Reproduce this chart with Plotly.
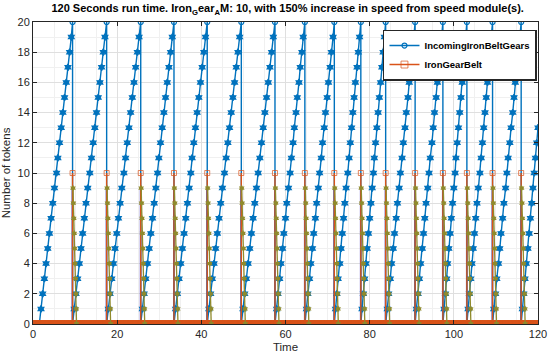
import plotly.graph_objects as go

# ---------------- data ----------------
series_names = ["IncomingIronBeltGears", "IronGearBelt"]
x_ticks = [0, 20, 40, 60, 80, 100, 120]
y_ticks = [0, 2, 4, 6, 8, 10, 12, 14, 16, 18, 20]

# times where the incoming count reaches 20 and is emptied onto the belt
drop_times = [9.4, 17.5, 25.6, 33.5, 41.4, 49.5, 57.5, 64.6, 71.6, 77.9,
              83.8, 90.8, 97.4, 103.1, 109.2, 116.0]

# idle samples before the first gear arrives
idle_times = [0.0, 0.4, 0.8, 1.2, 1.5]

# times at which the incoming count reaches 1, 2, ... 20 in every cycle
blue_cycles = [
    [1.9, 2.3, 2.7, 3.1, 3.5, 3.9, 4.3, 4.7, 5.1, 5.6, 5.9, 6.3, 6.7, 7.1, 7.5, 7.9, 8.3, 8.7, 9.1, 9.4],
    [9.8, 10.2, 10.6, 11.0, 11.4, 11.8, 12.2, 12.6, 13.0, 13.5, 13.9, 14.3, 14.7, 15.1, 15.5, 15.9, 16.3, 16.7, 17.1, 17.5],
    [17.9, 18.3, 18.7, 19.1, 19.5, 19.9, 20.3, 20.7, 21.1, 21.6, 22.0, 22.4, 22.8, 23.2, 23.6, 24.0, 24.4, 24.8, 25.2, 25.6],
    [26.0, 26.4, 26.8, 27.2, 27.6, 28.0, 28.4, 28.8, 29.2, 29.6, 29.9, 30.3, 30.7, 31.1, 31.5, 31.9, 32.3, 32.7, 33.1, 33.5],
    [33.9, 34.3, 34.7, 35.1, 35.5, 35.9, 36.3, 36.7, 37.1, 37.5, 37.8, 38.2, 38.6, 39.0, 39.4, 39.8, 40.2, 40.6, 41.0, 41.4],
    [41.8, 42.2, 42.6, 43.0, 43.4, 43.8, 44.2, 44.6, 45.0, 45.5, 45.9, 46.3, 46.7, 47.1, 47.5, 47.9, 48.3, 48.7, 49.1, 49.5],
    [49.9, 50.3, 50.7, 51.1, 51.5, 51.9, 52.3, 52.7, 53.1, 53.5, 53.9, 54.3, 54.7, 55.1, 55.5, 55.9, 56.3, 56.7, 57.1, 57.5],
    [57.9, 58.2, 58.6, 58.9, 59.3, 59.6, 60.0, 60.3, 60.7, 61.1, 61.4, 61.8, 62.1, 62.5, 62.8, 63.2, 63.5, 63.9, 64.2, 64.6],
    [65.0, 65.3, 65.7, 66.0, 66.4, 66.7, 67.1, 67.4, 67.8, 68.1, 68.5, 68.8, 69.2, 69.5, 69.9, 70.2, 70.6, 70.9, 71.3, 71.6],
    [71.9, 72.2, 72.5, 72.9, 73.2, 73.5, 73.8, 74.1, 74.4, 74.8, 75.1, 75.4, 75.7, 76.0, 76.3, 76.6, 77.0, 77.3, 77.6, 77.9],
    [78.2, 78.5, 78.8, 79.1, 79.4, 79.7, 80.0, 80.3, 80.6, 80.9, 81.1, 81.4, 81.7, 82.0, 82.3, 82.6, 82.9, 83.2, 83.5, 83.8],
    [84.2, 84.5, 84.9, 85.2, 85.6, 85.9, 86.3, 86.6, 87.0, 87.3, 87.7, 88.0, 88.4, 88.7, 89.1, 89.4, 89.8, 90.1, 90.5, 90.8],
    [91.1, 91.5, 91.8, 92.1, 92.5, 92.8, 93.1, 93.4, 93.8, 94.1, 94.4, 94.8, 95.1, 95.4, 95.8, 96.1, 96.4, 96.7, 97.1, 97.4],
    [97.7, 98.0, 98.3, 98.5, 98.8, 99.1, 99.4, 99.7, 100.0, 100.3, 100.5, 100.8, 101.1, 101.4, 101.7, 102.0, 102.3, 102.5, 102.8, 103.1],
    [103.4, 103.7, 104.0, 104.3, 104.6, 104.9, 105.2, 105.5, 105.8, 106.2, 106.5, 106.8, 107.1, 107.4, 107.7, 108.0, 108.3, 108.6, 108.9, 109.2],
    [109.5, 109.9, 110.2, 110.6, 110.9, 111.2, 111.6, 111.9, 112.3, 112.6, 112.9, 113.3, 113.6, 114.0, 114.3, 114.6, 115.0, 115.3, 115.7, 116.0],
    [116.3, 116.6, 116.9, 117.2, 117.6, 117.9, 118.2, 118.5, 118.8, 119.1, 119.4, 119.7, 120.0],
]

belt_peak = 10          # tokens put on the belt at every drop
# belt drains 9 .. 0 shortly after each drop (offset from drop time)
drain_levels = [9, 8, 7, 6, 5, 4, 3, 2, 1, 0]
drain_offsets = [0.10, 0.20, 0.30, 0.40, 0.50, 0.60, 0.70, 0.80, 0.90, 0.95]

BLUE = "#0072BD"
ORANGE = "#D95319"
OLIVE = "#8F8A2C"
PURPLE = "#5A4BC4"
FONT = "Liberation Sans, Arial, Helvetica, sans-serif"

# ---------------- build traces ----------------
bx, by, bsym = [], [], []
for t in idle_times:
    bx.append(t); by.append(0); bsym.append("circle-open")
for ci, cyc in enumerate(blue_cycles):
    for lvl, t in enumerate(cyc, start=1):
        bx.append(t); by.append(lvl)
        bsym.append("circle-open" if lvl == 20 else "hexagram")
    if ci < len(drop_times):
        bx.append(drop_times[ci]); by.append(0); bsym.append("hexagram")

# orange: sampled on the same time grid, zero except a spike at each drop
sample_times = sorted(set(bx))
ox, oy, osym, osz = [], [], [], []
for t in sample_times:
    if t in drop_times:
        ox += [t, t, t]; oy += [0, belt_peak, 0]
        osym += ["square", "square-open", "square"]; osz += [7, 5, 7]
    else:
        ox.append(t); oy.append(0); osym.append("square"); osz.append(7)
osym[0] = "square-open"

# drain (olive) and purple vertical helper lines
dx, dy = [], []
px, py = [], []
for d in drop_times:
    for lvl, off in zip(drain_levels, drain_offsets):
        dx.append(d + off); dy.append(lvl)
    dx.append(None); dy.append(None)
    px += [d - 0.05, d - 0.05, None]; py += [9, 0, None]

fig = go.Figure()
fig.add_trace(go.Scatter(x=px, y=py, mode="lines", line=dict(color=PURPLE, width=1.5),
                         showlegend=False, hoverinfo="skip"))
fig.add_trace(go.Scatter(x=bx, y=by, mode="lines+markers", name=series_names[0],
                         line=dict(color=BLUE, width=1.4),
                         marker=dict(symbol=bsym, size=5, color=BLUE, line=dict(color=BLUE, width=1.2))))
fig.add_trace(go.Scatter(x=ox, y=oy, mode="lines+markers", name=series_names[1],
                         line=dict(color=ORANGE, width=1.4),
                         marker=dict(symbol=osym, size=osz, color=ORANGE, line=dict(color=ORANGE, width=1.0))))
fig.add_trace(go.Scatter(x=dx, y=dy, mode="lines+markers", line=dict(color=OLIVE, width=1.3),
                         marker=dict(symbol="hexagram", size=5, color=OLIVE),
                         showlegend=False, hoverinfo="skip"))

axis_common = dict(showline=True, linecolor="#262626", linewidth=1, mirror="ticks",
                   ticks="inside", ticklen=4, tickcolor="#262626",
                   showgrid=True, gridcolor="#DFDFDF", gridwidth=1,
                   zeroline=False, automargin=False,
                   tickfont=dict(family=FONT, size=11, color="#262626"))

fig.update_layout(
    width=550, height=356,
    margin=dict(l=33, r=12, t=22, b=32),
    paper_bgcolor="white", plot_bgcolor="white",
    font=dict(family=FONT, color="#262626"),
    hovermode=False,
    title=dict(text="<b>120 Seconds run time. Iron<sub>G</sub>ear<sub>A</sub>M: 10, with 150% increase in speed from speed module(s).</b>",
               x=0.523, xanchor="center", y=0.987, yanchor="top",
               font=dict(family=FONT, size=11, color="black")),
    xaxis=dict(range=[0, 120], tickvals=x_ticks,
               minor=dict(dtick=5, showgrid=True, gridcolor="#F0F0F0"),
               title=dict(text="Time", font=dict(family=FONT, size=11.5), standoff=3),
               **axis_common),
    yaxis=dict(range=[0, 20], tickvals=y_ticks,
               minor=dict(dtick=1, showgrid=True, gridcolor="#F0F0F0"),
               title=dict(text="Number of tokens", font=dict(family=FONT, size=11.5), standoff=4),
               **axis_common),
    legend=dict(x=0.998, xanchor="right", y=0.975, yanchor="top",
                bgcolor="white", bordercolor="#262626", borderwidth=1.5,
                font=dict(family=FONT, size=9.5, color="black", weight="bold"),
                itemwidth=30, tracegroupgap=0),
)

fig.write_html("out.html", config={"displayModeBar": False, "staticPlot": True},
               post_script="document.body.style.margin='0';document.body.style.padding='0';")
